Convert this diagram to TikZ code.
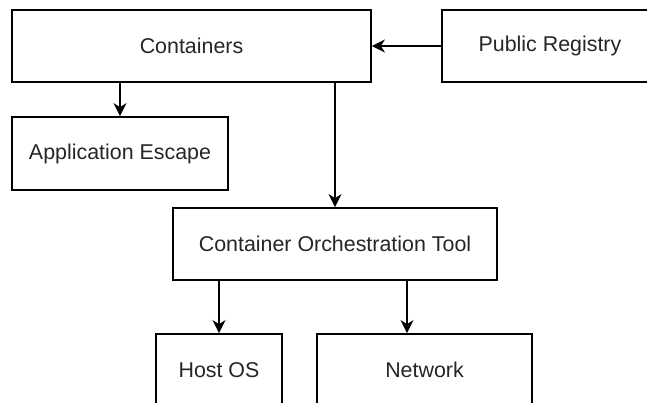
\documentclass[tikz,border=0pt]{standalone}
\usepackage{fontspec}
\setmainfont{Liberation Sans}
\usetikzlibrary{arrows.meta}
\begin{document}
\begin{tikzpicture}[x=1pt,y=-1pt,
  box/.style={draw, line width=1.8pt, inner sep=0pt, font=\fontsize{21.4}{25}\selectfont, text=black!85},
  arr/.style={line width=1.8pt, -{Stealth[length=13pt,width=13pt,inset=4pt]}}]
\useasboundingbox (0,0) rectangle (647,402);
\clip (0,0) rectangle (647,402);
\fill[white] (0,0) rectangle (647,402);
\node[box, minimum width=359pt, minimum height=72pt] (cont) at (191.5,46) {Containers};
\node[box, minimum width=216pt, minimum height=72pt] (pub) at (550,46) {Public Registry};
\node[box, minimum width=216pt, minimum height=73pt] (app) at (120,153.5) {Application Escape};
\node[box, minimum width=324pt, minimum height=72pt] (cot) at (335,244) {Container Orchestration Tool};
\node[box, minimum width=126pt, minimum height=72pt] (host) at (219,370) {Host OS};
\node[box, minimum width=215pt, minimum height=72pt] (net) at (424.5,370) {Network};
\draw[arr] (pub.west) -- (cont.east);
\draw[arr] (app.north |- cont.south) -- (app.north);
\draw[arr] (cot.north |- cont.south) -- (cot.north);
\draw[arr] (host.north |- cot.south) -- (host.north);
\draw[arr] ([xshift=-17.5pt]net.north |- cot.south) -- ([xshift=-17.5pt]net.north);
\end{tikzpicture}
\end{document}
